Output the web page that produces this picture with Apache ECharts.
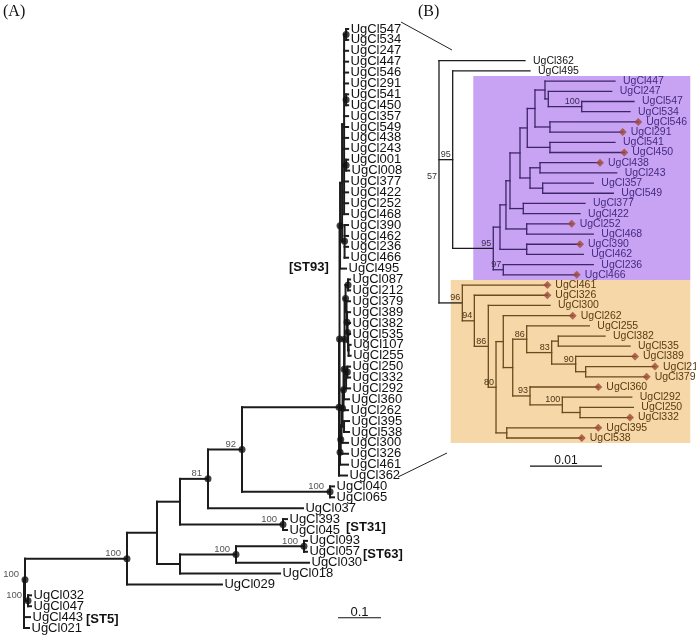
<!DOCTYPE html>
<html><head><meta charset="utf-8">
<script src="https://cdn.jsdelivr.net/npm/echarts@6/dist/echarts.min.js"></script>
<style>html,body{margin:0;padding:0;background:#fff}#c{width:696px;height:636px}</style>
</head><body><div id="c"></div>
<script>
// ---------- DATA ----------
// Panel A: maximum-likelihood tree (branch lengths in substitutions/site); internal labels = bootstrap, "*" = supported node (dot only)
const st93Upper = "((((UgCl547:0.0047,UgCl534:0.0047)*:0.0047,UgCl247:0.0093,UgCl447:0.0093,UgCl546:0.0093,UgCl291:0.0093,(UgCl541:0.0047,UgCl450:0.0047)*:0.0047,UgCl357:0.0093,UgCl549:0.0093,UgCl438:0.0093,UgCl243:0.0093,(UgCl001:0.0047,UgCl008:0.0070)*:0.0047,UgCl377:0.0093,UgCl422:0.0093,UgCl252:0.0093,UgCl468:0.0093):0.0047,(UgCl390:0.0081,UgCl462:0.0081,UgCl236:0.0081,UgCl466:0.0081)*:0.0058):0.0047,UgCl495:0.0140)*";
const st93Ladder = "((UgCl087:0.0047,UgCl212:0.0047)*:0.0058,(UgCl379:0.0081,(UgCl389:0.0070,(UgCl382:0.0058,(UgCl535:0.0047,(UgCl107:0.0047,UgCl255:0.0047):0.0012):0.0012)*:0.0012)*:0.0012):0.0023)*";
const st93Lower = `(((((((${st93Ladder}:0.0023,((UgCl250:0.0063,UgCl332:0.0063)*:0.0030,UgCl292:0.0093):0.0035)*:0.0012,UgCl360:0.0116)*:0.0012,UgCl262:0.0105)*:0.0023,(UgCl395:0.0116,UgCl538:0.0116):0.0035)*:0.0023,UgCl300:0.0151):0.0019,UgCl326:0.0170)*:0.0016,UgCl461:0.0186)*`;
const st93 = `((${st93Upper}:0.0012,${st93Lower}:0.0012)*:0.0012,UgCl362:0.0186)*`;
const otherA = "(((UgCl093:0.0070,UgCl057:0.0070)100:0.1581,UgCl030:0.1698)100:0.1302,UgCl018:0.2326)";
const treeA = `(((((((${st93}:0.2256,(UgCl040:0.0093,UgCl065:0.0093)100:0.2047)92:0.0791,UgCl037:0.2209)81:0.0651,(UgCl393:0.0093,UgCl045:0.0093)100:0.2395):0.0535,${otherA}:0.0535):0.0698,UgCl029:0.2209)100:0.2372,(UgCl032:0.0070,UgCl047:0.0070)100:0.0070)100:0.0023,UgCl443:0.0140,UgCl021:0.0116);`;

// Panel B: ST93 subtree
const purpleCladeB = "((((((((UgCl447:0.00972,(UgCl247:0.00881,(UgCl547:0.00726,UgCl534:0.00671)100:0.00464):0.00046):0.00139,(UgCl546:0.01226,UgCl291:0.0101):0.00208):0.00107,(UgCl541:0.00903,UgCl450:0.01032):0.00315):0.00101,((UgCl438:0.00833,UgCl243:0.01065):0.00139,(UgCl357:0.00703,UgCl549:0.00981):0.00176):0.00139):0.00139,(UgCl377:0.00857,UgCl422:0.00788):0.00185):0.00056,(UgCl252:0.00625,UgCl468:0.00925):0.00288):0.00083,(UgCl390:0.0074,UgCl462:0.00786):0.00371):0.00093,(UgCl236:0.0125,UgCl466:0.0102)97:0.00139)95";
const orangeCladeB = "(UgCl461:0.01181,(UgCl326:0.01014,(UgCl300:0.00857,((UgCl262:0.00964,((UgCl255:0.0087,((UgCl382:0.00649,UgCl535:0.00996):0.00092,(UgCl389:0.00824,(UgCl212:0.00963,UgCl379:0.00847):0.00139)90:0.00333)83:0.00347)86:0.00194,(UgCl360:0.00949,(UgCl292:0.00964,(UgCl250:0.0074,UgCl332:0.00694):0.00246)100:0.00449)93:0.0024):0.00131):0.00101,(UgCl395:0.01272,UgCl538:0.01042):0.00149)80:0.00107)86:0.00194)94:0.00167)96";
const treeB = `(UgCl362:0.01194,(UgCl495:0.01074,${purpleCladeB}:0.00564)95:0.0019,${orangeCladeB}:0.00324)57;`;

const diamondLeavesB = ["UgCl546","UgCl291","UgCl450","UgCl438","UgCl252","UgCl390","UgCl466","UgCl461","UgCl326","UgCl262","UgCl389","UgCl212","UgCl379","UgCl360","UgCl332","UgCl395","UgCl538"];
const purpleSpanB = ["UgCl447","UgCl466"];
const orangeSpanB = ["UgCl461","UgCl538"];
const cladeTagsA = ["[ST93]","[ST31]","[ST63]","[ST5]"];
const scaleBarA = [0.1];
const scaleBarB = [0.01];

// ---------- TREE HELPERS ----------
function parseNewick(str){
  let i=0;
  function node(){
    const n={children:[],name:'',len:0};
    if(str[i]==='('){
      i++; n.children.push(node());
      while(str[i]===','){i++; n.children.push(node());}
      i++;
    }
    let t=''; while(i<str.length && ',():;'.indexOf(str[i])<0) t+=str[i++];
    n.name=t.trim();
    if(str[i]===':'){i++; let v=''; while(i<str.length && ',();'.indexOf(str[i])<0) v+=str[i++]; n.len=parseFloat(v);}
    return n;
  }
  return node();
}
function layoutTree(root){
  const leaves=[], nodes=[];
  (function walk(n,d,parent){
    n.depth=d; n.parent=parent; nodes.push(n);
    n.children.forEach(c=>walk(c,d+c.len,n));
    if(!n.children.length){n.y=leaves.length; leaves.push(n); n.leafNames=[n.name];}
    else {n.y=(n.children[0].y+n.children[n.children.length-1].y)/2; n.leafNames=[].concat(...n.children.map(c=>c.leafNames));}
  })(root,0,null);
  return {leaves,nodes};
}
function mrca(nodes, a, b){
  let best=null;
  nodes.forEach(n=>{ if(n.leafNames.includes(a)&&n.leafNames.includes(b)){ if(!best||n.leafNames.length<best.leafNames.length) best=n; }});
  return best;
}
function markClade(n, tag){ n.clade=tag; n.children.forEach(c=>markClade(c,tag)); }
function buildSegments(nodes, colorOf){
  const segs=[];
  nodes.forEach(n=>{
    if(n.parent) segs.push({x1:n.parent.depth,y1:n.y,x2:n.depth,y2:n.y,c:colorOf(n.parent)});
    if(n.children.length) segs.push({x1:n.depth,y1:n.children[0].y,x2:n.depth,y2:n.children[n.children.length-1].y,c:colorOf(n)});
  });
  return segs;
}

const A = layoutTree(parseNewick(treeA));
const B = layoutTree(parseNewick(treeB));
const COL = {
  none:{line:'#1c1c1c', text:'#111111', support:'#333333'},
  purple:{fill:'#c9a3f3', line:'#3d2568', text:'#432a80', support:'#3a2a55'},
  orange:{fill:'#f6d7a7', line:'#6a4a1e', text:'#5a3a12', support:'#4a3416'}
};
const pRoot = mrca(B.nodes, purpleSpanB[0], purpleSpanB[1]); markClade(pRoot,'purple');
const oRoot = mrca(B.nodes, orangeSpanB[0], orangeSpanB[1]); markClade(oRoot,'orange');
const cladeOf = n => n.clade || 'none';

const segsA = buildSegments(A.nodes, ()=>COL.none.line);
const segsB = buildSegments(B.nodes, n=>COL[cladeOf(n)].line);
const supA = A.nodes.filter(n=>n.children.length && n.name);
const supB = B.nodes.filter(n=>n.children.length && n.name);
const boxesB = [
  {root:pRoot, left:0.00476, right:0.0349, fill:COL.purple.fill},
  {root:oRoot, left:0.00163, right:0.0349, fill:COL.orange.fill}
];
const FONT = '"Liberation Sans", Arial, Helvetica, sans-serif';

function segSeries(segs, gi, w){
  return {type:'custom', xAxisIndex:gi, yAxisIndex:gi, silent:true, z:3, clip:false,
    data: segs.map(s=>[s.x1,s.y1,s.x2,s.y2]),
    renderItem:(p,api)=>{ const s=segs[p.dataIndex]; const a=api.coord([s.x1,s.y1]), b=api.coord([s.x2,s.y2]);
      return {type:'line', shape:{x1:a[0],y1:a[1],x2:b[0],y2:b[1]}, style:{stroke:s.c, lineWidth:w, lineCap:'square'}}; }};
}
function leafLabelSeries(leaves, gi, size, gap, colorFn){
  return {type:'custom', xAxisIndex:gi, yAxisIndex:gi, silent:true, z:6, clip:false,
    data: leaves.map(l=>[l.depth,l.y]),
    renderItem:(p,api)=>{ const l=leaves[p.dataIndex]; const a=api.coord([l.depth,l.y]);
      return {type:'text', x:a[0]+gap, y:a[1], style:{text:l.name, fill:colorFn(l), fontSize:size, fontFamily:FONT, align:'left', verticalAlign:'middle'}}; }};
}
function supportSeries(nodes, gi, size, dx, dy, colorFn){
  const list = nodes.filter(n=>n.name!=='*');
  return {type:'custom', xAxisIndex:gi, yAxisIndex:gi, silent:true, z:6, clip:false,
    data: list.map(n=>[n.depth,n.y]),
    renderItem:(p,api)=>{ const n=list[p.dataIndex]; const a=api.coord([n.depth,n.y]);
      return {type:'text', x:a[0]-dx, y:a[1]-dy, style:{text:n.name, fill:colorFn(n), fontSize:size, fontFamily:FONT, align:'right', verticalAlign:'middle'}}; }};
}
function scaleSeries(len, gi, x0, yIdx, size){
  return {type:'custom', xAxisIndex:gi, yAxisIndex:gi, silent:true, z:6, clip:false,
    data: len.map(v=>[x0,yIdx,v]),
    renderItem:(p,api)=>{ const v=len[p.dataIndex]; const a=api.coord([x0,yIdx]), b=api.coord([x0+v,yIdx]);
      return {type:'group', children:[
        {type:'line', shape:{x1:a[0],y1:a[1],x2:b[0],y2:b[1]}, style:{stroke:'#111',lineWidth:1.2}},
        {type:'text', x:(a[0]+b[0])/2, y:a[1]+1, style:{text:String(v), fill:'#111', fontSize:size, fontFamily:FONT, align:'center', verticalAlign:'bottom'}}
      ]}; }};
}

const option = {
  animation:false,
  backgroundColor:'#ffffff',
  grid:[{left:24, top:29, width:430, height:599}, {left:439, top:60.7, width:252, height:377.3}],
  xAxis:[{type:'value', gridIndex:0, min:0, max:1, show:false}, {type:'value', gridIndex:1, min:0, max:0.035, show:false}],
  yAxis:[{type:'value', gridIndex:0, min:0, max:A.leaves.length-1, inverse:true, show:false},
         {type:'value', gridIndex:1, min:0, max:B.leaves.length-1, inverse:true, show:false}],
  series:[
    {type:'custom', xAxisIndex:1, yAxisIndex:1, silent:true, z:1, clip:false,
      data: boxesB.map(b=>[b.left, b.root.leafNames.length]),
      renderItem:(p,api)=>{ const b=boxesB[p.dataIndex];
        const ys=b.root.leafNames.map(nm=>B.leaves.find(l=>l.name===nm).y);
        const a=api.coord([b.left, Math.min(...ys)-0.5]), c=api.coord([b.right, Math.max(...ys)+0.5]);
        return {type:'rect', shape:{x:a[0],y:a[1],width:c[0]-a[0],height:c[1]-a[1]}, style:{fill:b.fill}}; }},
    segSeries(segsA, 0, 2),
    segSeries(segsB, 1, 1.3),
    {type:'scatter', xAxisIndex:0, yAxisIndex:0, silent:true, z:5, symbol:'circle', symbolSize:7,
      itemStyle:{color:'#111'}, data: supA.map(n=>[n.depth,n.y])},
    {type:'scatter', xAxisIndex:1, yAxisIndex:1, silent:true, z:5, symbol:'diamond', symbolSize:[8,8],
      itemStyle:{color:'#9c4a3a'}, data: B.leaves.filter(l=>diamondLeavesB.includes(l.name)).map(l=>[l.depth,l.y])},
    leafLabelSeries(A.leaves, 0, 13, 2.5, ()=>COL.none.text),
    leafLabelSeries(B.leaves, 1, 10.5, 8, l=>COL[cladeOf(l)].text),
    supportSeries(supA, 0, 9.5, 6, 5, ()=>'#555'),
    supportSeries(supB, 1, 9, 2, 5, n=>COL[cladeOf(n)].support),
    scaleSeries(scaleBarA, 0, 0.7302, 54.06, 13),
    scaleSeries(scaleBarB, 1, 0.01264, 39.75, 12)
  ],
  graphic:[
    {type:'text', x:3, y:12, style:{text:'(A)', font:'16px "Liberation Serif", "DejaVu Serif", serif', fill:'#111', verticalAlign:'middle'}},
    {type:'text', x:418, y:12, style:{text:'(B)', font:'16px "Liberation Serif", "DejaVu Serif", serif', fill:'#111', verticalAlign:'middle'}},
    {type:'text', x:289, y:267, style:{text:cladeTagsA[0], font:'bold 13px '+FONT, fill:'#111', verticalAlign:'middle'}},
    {type:'text', x:346, y:527, style:{text:cladeTagsA[1], font:'bold 13px '+FONT, fill:'#111', verticalAlign:'middle'}},
    {type:'text', x:363, y:554, style:{text:cladeTagsA[2], font:'bold 13px '+FONT, fill:'#111', verticalAlign:'middle'}},
    {type:'text', x:86, y:619, style:{text:cladeTagsA[3], font:'bold 13px '+FONT, fill:'#111', verticalAlign:'middle'}},
    {type:'line', shape:{x1:401,y1:22,x2:452,y2:50}, style:{stroke:'#222', lineWidth:1}},
    {type:'line', shape:{x1:398,y1:477,x2:447,y2:453}, style:{stroke:'#222', lineWidth:1}}
  ]
};
const chart = echarts.init(document.getElementById('c'), null, {renderer:'canvas'});
chart.setOption(option);
</script>
</body></html>
